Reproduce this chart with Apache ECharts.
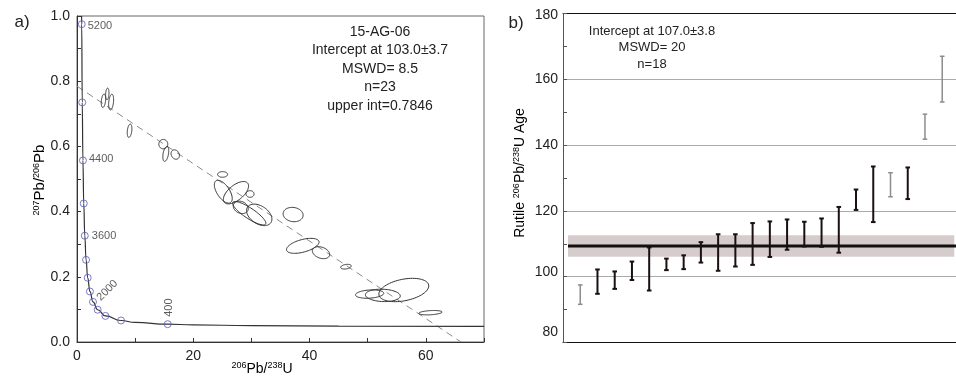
<!DOCTYPE html>
<html><head><meta charset="utf-8">
<script src="https://cdn.jsdelivr.net/npm/echarts@6/dist/echarts.min.js"></script>
<style>html,body{margin:0;padding:0;background:#fff}#c{width:956px;height:376px}</style>
</head><body><div id="c"></div>
<script>
// ---------- panel a) Tera-Wasserburg data (read from picture) ----------
const concordiaX = [0.79, 0.81, 0.90, 1.02, 1.16, 1.34, 1.56, 1.84, 2.22, 2.75, 3.55, 4.89, 7.57, 10, 15.6, 20, 30, 45, 70];
const concordiaY = [1.0, 0.975, 0.735, 0.557, 0.425, 0.326, 0.252, 0.197, 0.155, 0.123, 0.099, 0.080, 0.066, 0.060, 0.0547, 0.0526, 0.0501, 0.0489, 0.0481];
const markerAge = [5200, 4800, 4400, 4000, 3600, 3200, 2800, 2400, 2000, 1600, 1200, 800, 400];
const markerX = [0.81, 0.90, 1.02, 1.16, 1.34, 1.56, 1.84, 2.22, 2.75, 3.55, 4.89, 7.57, 15.6];
const markerY = [0.975, 0.735, 0.557, 0.425, 0.326, 0.252, 0.197, 0.155, 0.123, 0.099, 0.080, 0.066, 0.0547];
const labelledAges = [5200, 4400, 3600, 2000, 400];
const discordiaX = [0, 66.05];
const discordiaY = [0.7846, 0];
// error ellipses: [x, y, sigmaX, sigmaY, rho]
const ellipses = [
  [4.55, 0.740, 0.38, 0.0206, 0.3],
  [5.21, 0.761, 0.29, 0.0178, 0.2],
  [5.87, 0.736, 0.43, 0.0240, 0.3],
  [9.04, 0.648, 0.40, 0.0205, 0.3],
  [14.84, 0.607, 0.77, 0.0144, 0.0],
  [15.27, 0.577, 0.51, 0.0230, 0.4],
  [16.90, 0.575, 0.72, 0.0144, -0.2],
  [25.04, 0.514, 0.86, 0.0086, 0.0],
  [25.16, 0.461, 1.54, 0.0350, -0.6],
  [27.34, 0.458, 2.17, 0.0343, 0.6],
  [29.76, 0.454, 0.69, 0.0102, 0.0],
  [28.17, 0.413, 1.29, 0.0190, -0.2],
  [29.62, 0.395, 2.86, 0.0360, -0.85],
  [31.34, 0.390, 2.18, 0.0330, -0.4],
  [37.17, 0.391, 1.72, 0.0220, -0.1],
  [38.83, 0.295, 2.80, 0.0230, 0.5],
  [41.97, 0.274, 1.49, 0.0184, -0.3],
  [46.26, 0.231, 0.91, 0.0072, 0.3],
  [50.33, 0.147, 2.43, 0.0128, 0.2],
  [52.60, 0.143, 3.00, 0.0190, -0.1],
  [56.21, 0.1595, 4.29, 0.0358, 0.35],
  [60.79, 0.0899, 2.00, 0.0067, 0.3]
];
const annotationA = ['15-AG-06', 'Intercept at 103.0\u00b13.7', 'MSWD= 8.5', 'n=23', 'upper int=0.7846'];
const xTicksA = [0, 20, 40, 60];

// ---------- panel b) weighted mean data ----------
const ageLow  = [91.6, 94.8, 96.3, 99.0, 95.8, 102.0, 102.3, 104.3, 101.8, 103.1, 103.6, 106.0, 108.2, 109.2, 109.1, 107.3, 120.3, 116.6, 124.3, 123.6, 141.8, 153.1];
const ageHigh = [97.5, 102.2, 101.6, 104.6, 108.9, 105.5, 106.5, 110.5, 112.9, 112.9, 116.3, 116.8, 117.4, 116.7, 117.7, 121.2, 126.5, 133.5, 131.6, 133.2, 149.4, 167.0];
const rejected = [1, 0, 0, 0, 0, 0, 0, 0, 0, 0, 0, 0, 0, 0, 0, 0, 0, 0, 1, 0, 1, 1];
const meanAge = 109.3, meanLow = 106.1, meanHigh = 112.6;
const annotationB = ['Intercept at 107.0\u00b13.8', 'MSWD= 20', 'n=18'];

const FONT = 'Liberation Sans';
const chart = echarts.init(document.getElementById('c'));

const labelStyles = {
  5200: {position: 'right', distance: 2, offset: [0, 2]},
  4400: {position: 'right', distance: 2, offset: [0, -1]},
  3600: {position: 'right', distance: 3, offset: [0, 0]},
  2000: {position: 'inside', rotate: 45, offset: [18.3, 2]},
  400: {position: 'inside', rotate: 90, offset: [16.5, 1.5]}
};
const markerData = markerAge.map((a, i) => {
  const item = {value: [markerX[i], markerY[i]]};
  if (labelledAges.includes(a)) {
    item.label = Object.assign({show: true, formatter: String(a), fontSize: 11, color: '#333', fontFamily: FONT}, labelStyles[a]);
  }
  return item;
});

const supRich = (main, sup) => ({
  m: {fontSize: main, fontFamily: FONT, color: '#222'},
  s: {fontSize: sup, fontFamily: FONT, color: '#222', verticalAlign: 'top', padding: [0, 0, main * 0.45, 0]}
});

const graphics = [];
graphics.push({type: 'text', x: 22, y: 22, style: {text: 'a)', font: '17px ' + FONT, fill: '#222', align: 'center', verticalAlign: 'middle'}});
graphics.push({type: 'text', x: 516, y: 23, style: {text: 'b)', font: '17px ' + FONT, fill: '#222', align: 'center', verticalAlign: 'middle'}});
annotationA.forEach((t, i) => graphics.push({type: 'text', x: 380, y: 32 + i * 18.5,
  style: {text: t, font: '14px ' + FONT, fill: '#222', align: 'center', verticalAlign: 'middle'}}));
annotationB.forEach((t, i) => graphics.push({type: 'text', x: 652, y: 31.7 + i * 16.2,
  style: {text: t, font: '13px ' + FONT, fill: '#222', align: 'center', verticalAlign: 'middle'}}));
graphics.push({type: 'text', x: 262, y: 369, style: {text: '{s|206}{m|Pb/}{s|238}{m|U}', rich: supRich(14, 9), align: 'center', verticalAlign: 'middle'}});
graphics.push({type: 'text', x: 40, y: 180, rotation: Math.PI / 2, style: {text: '{s|207}{m|Pb/}{s|206}{m|Pb}', rich: supRich(15, 9), align: 'center', verticalAlign: 'middle'}});
graphics.push({type: 'text', x: 520, y: 173, rotation: Math.PI / 2, style: {text: '{m|Rutile }{s|206}{m|Pb/}{s|238}{m|U Age}', rich: supRich(14, 9), align: 'center', verticalAlign: 'middle'}});

const option = {
  animation: false,
  backgroundColor: '#fff',
  textStyle: {fontFamily: FONT},
  grid: [
    {left: 77, top: 16, width: 407, height: 326, show: true, borderColor: '#666', borderWidth: 1},
    {left: 563, top: 13.5, width: 393, height: 329}
  ],
  xAxis: [
    {gridIndex: 0, type: 'value', min: 0, max: 70, interval: 20,
     axisLine: {lineStyle: {color: '#333'}},
     axisTick: {inside: true, length: 4, lineStyle: {color: '#333'}},
     minorTick: {show: true, splitNumber: 2, length: 4, lineStyle: {color: '#333'}},
     splitLine: {show: false},
     axisLabel: {fontSize: 14, color: '#222', margin: 7, showMaxLabel: false,
       formatter: v => xTicksA.includes(v) ? String(v) : ''}},
    {gridIndex: 1, type: 'value', min: 0, max: 22.8,
     axisLine: {lineStyle: {color: '#111'}}, axisTick: {show: false}, axisLabel: {show: false}, splitLine: {show: false}},
    {gridIndex: 1, type: 'value', position: 'top', min: 0, max: 1,
     axisLine: {lineStyle: {color: '#111'}}, axisTick: {show: false}, axisLabel: {show: false}, splitLine: {show: false}}
  ],
  yAxis: [
    {gridIndex: 0, type: 'value', min: 0, max: 1, interval: 0.2,
     axisLine: {lineStyle: {color: '#333'}},
     axisTick: {inside: true, length: 4, lineStyle: {color: '#333'}},
     minorTick: {show: true, splitNumber: 2, length: 4, lineStyle: {color: '#333'}},
     splitLine: {show: false},
     axisLabel: {fontSize: 14, color: '#222', margin: 7, formatter: v => v.toFixed(1)}},
    {gridIndex: 1, type: 'value', min: 80, max: 180, interval: 20,
     axisLine: {lineStyle: {color: '#555'}},
     axisTick: {inside: true, length: 4, lineStyle: {color: '#555'}},
     minorTick: {show: true, splitNumber: 2, length: 4, lineStyle: {color: '#555'}},
     splitLine: {show: true, lineStyle: {color: '#aaa', width: 1}},
     axisLabel: {fontSize: 14, color: '#222', margin: 5,
       formatter: v => v === 80 ? '{lo|80}' : v === 100 ? '{mid|100}' : v === 180 ? '{hi|180}' : String(v),
       rich: {lo: {fontSize: 14, color: '#222', padding: [0, 0, 20, 0]},
              mid: {fontSize: 14, color: '#222', padding: [0, 0, 10, 0]},
              hi: {fontSize: 14, color: '#222', padding: [4, 0, 0, 0]}}}}
  ],
  graphic: graphics,
  series: [
    {type: 'line', xAxisIndex: 0, yAxisIndex: 0, data: discordiaX.map((x, i) => [x, discordiaY[i]]),
     symbol: 'none', lineStyle: {color: '#8a8a8a', width: 1, type: [7, 5]}, z: 2},
    {type: 'line', xAxisIndex: 0, yAxisIndex: 0, data: concordiaX.map((x, i) => [x, concordiaY[i]]),
     symbol: 'none', smooth: 0.5, smoothMonotone: 'x', lineStyle: {color: '#333', width: 1.2}, z: 3},
    {type: 'custom', xAxisIndex: 0, yAxisIndex: 0, data: ellipses, z: 4,
     encode: {x: 0, y: 1},
     renderItem: (params, api) => {
       const cx = api.value(0), cy = api.value(1), sx = api.value(2), sy = api.value(3), r = api.value(4);
       const q = Math.sqrt(1 - r * r);
       const pts = [];
       for (let k = 0; k < 72; k++) {
         const t = k / 72 * Math.PI * 2;
         pts.push(api.coord([cx + sx * Math.cos(t), cy + sy * (r * Math.cos(t) + q * Math.sin(t))]));
       }
       return {type: 'polygon', shape: {points: pts}, style: {fill: 'none', stroke: '#333', lineWidth: 1}};
     }},
    {type: 'scatter', xAxisIndex: 0, yAxisIndex: 0, data: markerData, symbol: 'circle', symbolSize: 7, z: 5,
     itemStyle: {color: 'rgba(0,0,0,0)', borderColor: '#5b5bb5', borderWidth: 1}},
    // panel b
    {type: 'line', xAxisIndex: 1, yAxisIndex: 1, data: [[0.29, meanAge], [22.8, meanAge]], symbol: 'none',
     lineStyle: {color: '#111', width: 3}, z: 3,
     markArea: {silent: true, itemStyle: {color: '#d6cccc'},
       data: [[{coord: [0.29, meanLow]}, {coord: [22.7, meanHigh]}]]}},
    {type: 'custom', xAxisIndex: 1, yAxisIndex: 1, z: 4,
     data: ageLow.map((lo, i) => [i + 1, lo, ageHigh[i], rejected[i]]),
     encode: {x: 0, y: [1, 2]},
     renderItem: (params, api) => {
       const x = api.value(0), lo = api.value(1), hi = api.value(2), rej = api.value(3);
       const p1 = api.coord([x, lo]), p2 = api.coord([x, hi]);
       const col = rej ? '#8c8c8c' : '#1a1010', lw = rej ? 1.5 : 2, w = 2.3;
       const st = {stroke: col, lineWidth: lw};
       return {type: 'group', children: [
         {type: 'line', shape: {x1: p1[0], y1: p1[1], x2: p2[0], y2: p2[1]}, style: st},
         {type: 'line', shape: {x1: p1[0] - w, y1: p1[1], x2: p1[0] + w, y2: p1[1]}, style: st},
         {type: 'line', shape: {x1: p2[0] - w, y1: p2[1], x2: p2[0] + w, y2: p2[1]}, style: st}
       ]};
     }}
  ]
};
chart.setOption(option);
</script></body></html>
